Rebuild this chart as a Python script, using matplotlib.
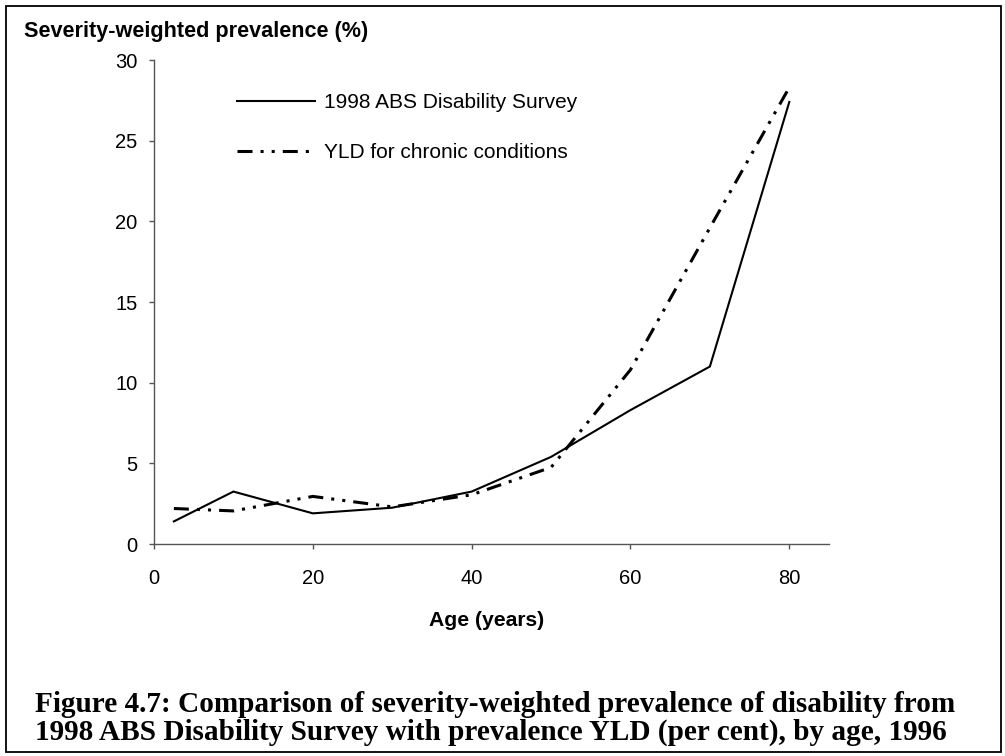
import matplotlib
matplotlib.use("Agg")
import matplotlib.pyplot as plt
from matplotlib.patches import Rectangle

plt.rcParams['lines.scale_dashes'] = False

# ---- data ----
ages = [2.5, 10, 20, 30, 40, 50, 60, 70, 80]
abs_survey = [1.4, 3.25, 1.9, 2.25, 3.25, 5.4, 8.3, 11.0, 27.4]
yld_chronic = [2.2, 2.05, 2.95, 2.3, 3.05, 4.75, 10.8, 19.6, 28.3]
x_ticks = [0, 20, 40, 60, 80]
y_ticks = [0, 5, 10, 15, 20, 25, 30]
series_labels = ["1998 ABS Disability Survey", "YLD for chronic conditions"]
y_title = "Severity-weighted prevalence (%)"
x_title = "Age (years)"
caption_lines = [
    "Figure 4.7: Comparison of severity-weighted prevalence of disability from",
    "1998 ABS Disability Survey with prevalence YLD (per cent), by age, 1996",
]

W, H = 1005, 756
fig = plt.figure(figsize=(W / 100, H / 100), dpi=100)
fig.patch.set_facecolor("white")
renderer = fig.canvas.get_renderer()

sans = "Liberation Sans"
serif = "Liberation Serif"


def fit_text(t, target_px):
    """scale a text's font size so that its rendered width matches target_px"""
    for _ in range(3):
        w = t.get_window_extent(renderer=renderer).width
        t.set_fontsize(t.get_fontsize() * target_px / w)


# axes in pixel layout
x0, x1 = 154, 829
y0, y1 = 544, 60
ax = fig.add_axes([x0 / W, 1 - y0 / H, (x1 - x0) / W, (y0 - y1) / H])
ax.set_xlim(0, 85)
ax.set_ylim(0, 30)
for s in ["top", "right"]:
    ax.spines[s].set_visible(False)
for s in ["left", "bottom"]:
    ax.spines[s].set_color("#555555")
    ax.spines[s].set_linewidth(1.0)
ax.set_xticks(x_ticks)
ax.set_yticks(y_ticks)
ax.tick_params(direction="out", length=3.8, width=1.0, color="#555555",
               labelsize=14.5, labelcolor="black")
ax.tick_params(axis="x", pad=14.5)
ax.tick_params(axis="y", pad=8)
for lab in ax.get_xticklabels() + ax.get_yticklabels():
    lab.set_fontfamily(sans)

dash_pattern = (0, (10.8, 5.8, 2.2, 5.8, 2.2, 5.8))
l1, = ax.plot(ages, abs_survey, color="black", lw=1.5, solid_joinstyle="miter")
l2, = ax.plot(ages, yld_chronic, color="black", lw=2.2, linestyle=dash_pattern,
              dash_capstyle="butt")

leg = ax.legend([l1, l2], series_labels, frameon=False, loc="upper left",
                bbox_to_anchor=(237 / W, 1 - 93 / H), bbox_transform=fig.transFigure,
                prop={"family": sans, "size": 15}, handlelength=3.75,
                handletextpad=0.45, labelspacing=1.5, borderpad=0, borderaxespad=0)

# axis titles
yt = fig.text(24 / W, 1 - 31 / H, y_title, family=sans, weight="bold", fontsize=15,
              ha="left", va="center")
fit_text(yt, 344)
xt = fig.text(487 / W, 1 - 621 / H, x_title, family=sans, weight="bold", fontsize=15,
              ha="center", va="center")
fit_text(xt, 116)

# caption
cap_x = 35 / W
cap_base = [712, 740]
caps = []
for txt, yb in zip(caption_lines, cap_base):
    caps.append(fig.text(cap_x, 1 - yb / H, txt, family=serif, weight="bold",
                         fontsize=20, ha="left", va="baseline"))
fit_text(caps[0], 920)
caps[1].set_fontsize(caps[0].get_fontsize())

# outer frame
fig.patches.append(Rectangle((6 / W, 4 / H), (1001 - 6) / W, (752 - 6) / H,
                             fill=False, lw=1.3, edgecolor="black",
                             transform=fig.transFigure, figure=fig))

fig.savefig("out.png", dpi=100, facecolor="white")
